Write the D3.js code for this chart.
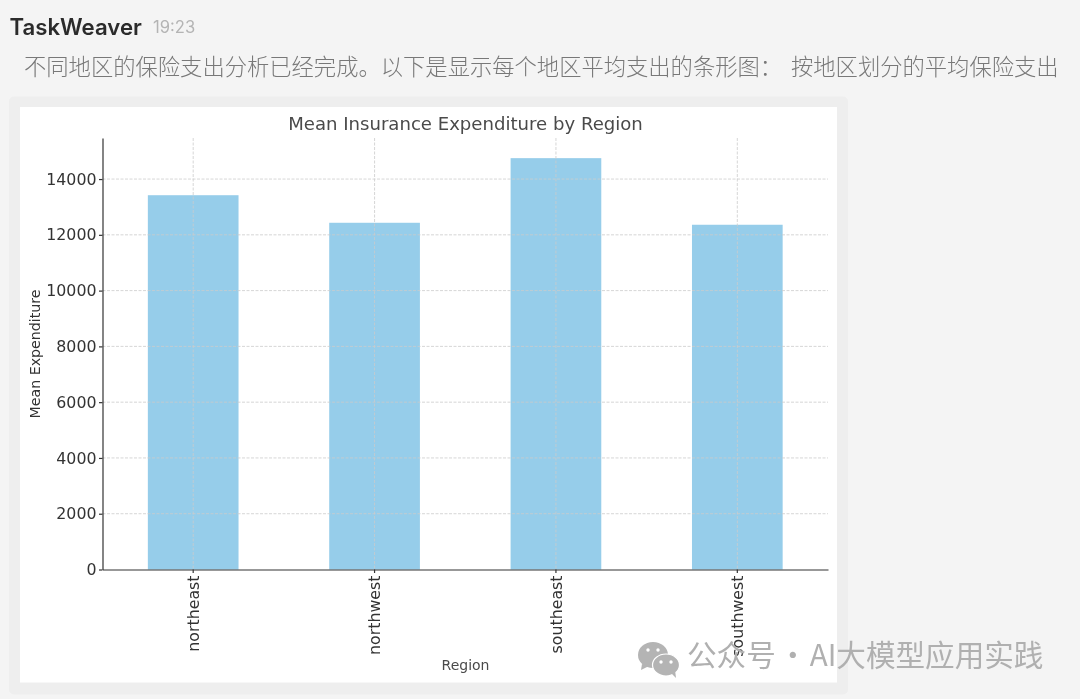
<!DOCTYPE html>
<html><head><meta charset="utf-8">
<script src="https://cdnjs.cloudflare.com/ajax/libs/d3/7.8.5/d3.min.js"></script>
<style>
html,body{margin:0;padding:0;background:#f4f4f4;overflow:hidden}
svg{display:block}
text{font-family:"DejaVu Sans",sans-serif}
</style></head><body><svg id="c" width="1080" height="699"></svg>
<script>
const regions = ["northeast","northwest","southeast","southwest"];
const meanExpenditure = [13406, 12418, 14735, 12347];
const yTicks = [0,2000,4000,6000,8000,10000,12000,14000];
const chartTitle = "Mean Insurance Expenditure by Region";
const xTitle = "Region", yTitle = "Mean Expenditure";
const sender = "TaskWeaver", timeText = "19:23";
const messageText = "不同地区的保险支出分析已经完成。以下是显示每个地区平均支出的条形图：";
const messageText2 = "按地区划分的平均保险支出";
const watermark = "公众号 · AI大模型应用实践";

const svg = d3.select("#c");
const cjk = '"Noto Sans CJK SC","Noto Sans",sans-serif';
const m = {l:102.5, r:828, t:138, b:569.5};

svg.append("rect").attr("x",9).attr("y",96.5).attr("width",839).attr("height",598).attr("rx",5).attr("fill","#eeeeee");
svg.append("rect").attr("x",20).attr("y",107).attr("width",817).attr("height",575.5).attr("fill","#fff");

svg.append("text").text(sender).attr("x",9.5).attr("y",34.5).attr("fill","#2b2b2b")
  .style("font-family","Inter,sans-serif").style("font-weight",600).style("font-size","22.2px");
svg.append("text").text(timeText).attr("x",153).attr("y",33).attr("fill","#b4b4b4")
  .style("font-family","Inter,sans-serif").style("font-size","16.6px");
svg.append("text").text(messageText).attr("x",24).attr("y",75).attr("fill","#787878")
  .style("font-family",cjk).style("font-weight",300).style("font-size","22.3px");
svg.append("text").text(messageText2).attr("x",791).attr("y",75).attr("fill","#787878")
  .style("font-family",cjk).style("font-weight",300).style("font-size","22.3px");

const x = d3.scaleBand().domain(regions).range([m.l,m.r]).padding(0.5).paddingOuter(0.25);
const y = d3.scaleLinear().domain([0,15472]).range([m.b,m.t]);

const gridStyle = s => s.attr("stroke","#cbcbcb").attr("stroke-width",0.8).attr("stroke-dasharray","3 1.5");
const g = svg.append("g");
g.selectAll("rect.bar").data(regions).join("rect").attr("class","bar")
  .attr("x",d=>x(d)).attr("width",x.bandwidth())
  .attr("y",(d,i)=>y(meanExpenditure[i])-0.4).attr("height",(d,i)=>y(0)-y(meanExpenditure[i])+0.4)
  .attr("fill","#96cdea");
const cx = d=>x(d)+x.bandwidth()/2;
g.selectAll("line.gx").data(regions).join("line").attr("class","gx")
  .attr("x1",cx).attr("x2",cx).attr("y1",m.t).attr("y2",m.b).call(gridStyle);
g.selectAll("line.gy").data(yTicks.slice(1)).join("line").attr("class","gy")
  .attr("x1",m.l).attr("x2",m.r).attr("y1",d=>y(d)).attr("y2",d=>y(d)).call(gridStyle);

const ax = svg.append("g").attr("transform",`translate(0,${m.b})`)
  .call(d3.axisBottom(x).tickSize(3.5).tickSizeOuter(0));
ax.selectAll("text").attr("transform","rotate(-90)").attr("text-anchor","end")
  .attr("x",-6).attr("y",0).attr("dy","0.36em").attr("fill","#333").style("font-size","15.8px");
const ay = svg.append("g").attr("transform",`translate(${m.l},0)`)
  .call(d3.axisLeft(y).tickValues(yTicks).tickFormat(d3.format("d")).tickSize(3.5).tickSizeOuter(0));
ay.selectAll("text").attr("fill","#333").attr("x",-6).style("font-size","15.8px");
svg.selectAll(".domain,.tick line").attr("stroke","#333").attr("stroke-width",1.2);

svg.append("text").text(chartTitle).attr("x",465.5).attr("y",129.5).attr("text-anchor","middle")
  .attr("fill","#4a4a4a").style("font-size","18.1px");
svg.append("text").text(xTitle).attr("x",465.5).attr("y",670).attr("text-anchor","middle")
  .attr("fill","#4a4a4a").style("font-size","14px");
svg.append("text").text(yTitle).attr("transform","translate(40,354) rotate(-90)").attr("text-anchor","middle")
  .attr("fill","#333").style("font-size","14.2px");

// watermark
const wm = svg.append("g").attr("fill","#b4b4b4");
wm.append("ellipse").attr("cx",653).attr("cy",655).attr("rx",15).attr("ry",13);
wm.append("path").attr("d","M642 664 L641 670 L649 666 Z");
wm.append("ellipse").attr("cx",666).attr("cy",665).attr("rx",13.5).attr("ry",11).attr("stroke","#fff").attr("stroke-width",1.2);
wm.append("path").attr("d","M671 673 L676 678 L675 670 Z");
[[648,650],[658,650],[661,662],[671,662]].forEach(p=>wm.append("circle").attr("cx",p[0]).attr("cy",p[1]).attr("r",1.7).attr("fill","#fff"));
svg.append("text").text(watermark).attr("x",687).attr("y",666).attr("fill","#b0b0b0")
  .style("font-family",cjk).style("font-size","29.6px").style("font-weight",400).style("word-spacing","-4.5px");
svg.style("filter","blur(0.35px)");
</script></body></html>
